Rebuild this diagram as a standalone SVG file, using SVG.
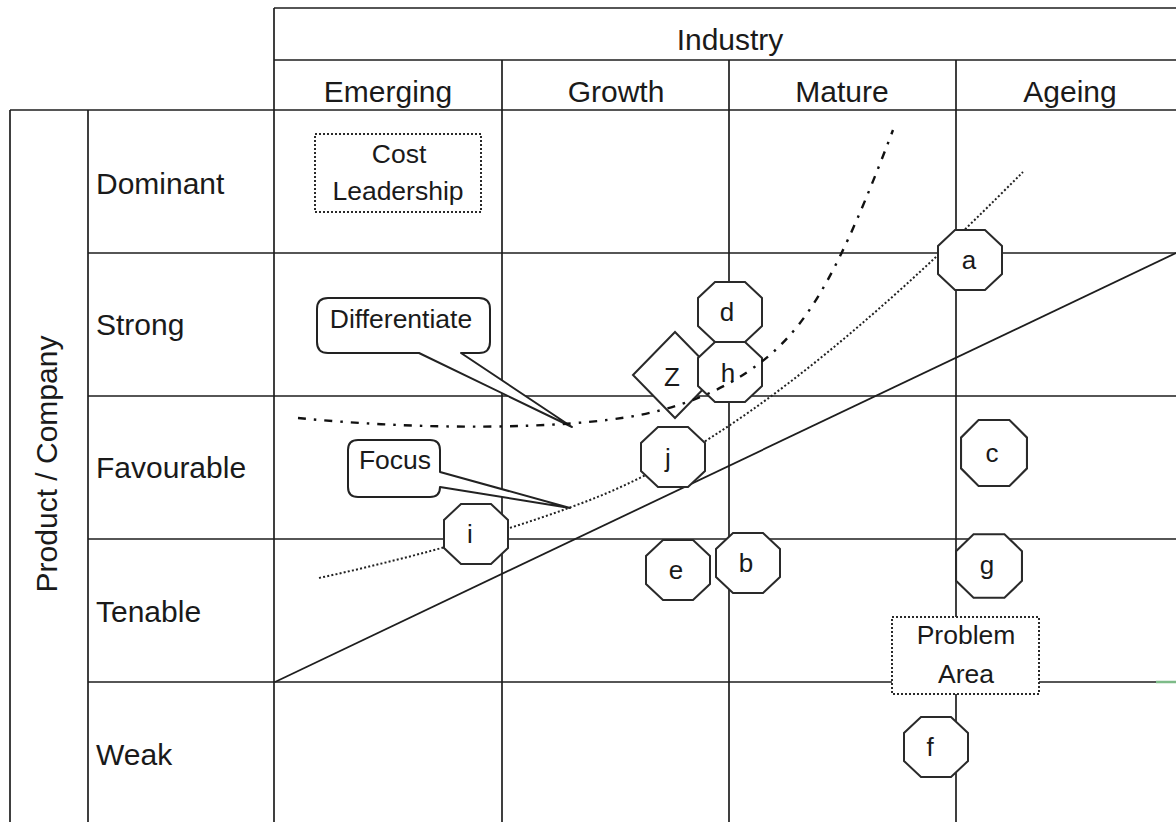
<svg xmlns="http://www.w3.org/2000/svg" width="1176" height="822" viewBox="0 0 1176 822">
  <style>
    .grid { stroke: #1e1e1e; stroke-width: 1.7; fill: none; }
    .lbl { font-family: "Liberation Sans", Arial, sans-serif; font-size: 30px; fill: #1a1a1a; }
    .hdr { font-family: "Liberation Sans", Arial, sans-serif; font-size: 30px; fill: #1a1a1a; text-anchor: middle; }
    .box { font-family: "Liberation Sans", Arial, sans-serif; font-size: 26.5px; fill: #1a1a1a; text-anchor: middle; }
    .oct { fill: #ffffff; stroke: #2a2a2a; stroke-width: 2; }
    .otx { font-family: "Liberation Sans", Arial, sans-serif; font-size: 26px; fill: #1a1a1a; text-anchor: middle; }
    .dotbox { fill: #ffffff; stroke: #2a2a2a; stroke-width: 2; stroke-dasharray: 2 2; }
    .callout { fill: #ffffff; stroke: #222; stroke-width: 2; stroke-linejoin: round; }
    .trend { stroke: #1e1e1e; stroke-width: 1.8; fill: none; }
    .dotted { stroke: #222; stroke-width: 2; fill: none; stroke-dasharray: 2 2.2; }
    .dashdot { stroke: #111; stroke-width: 2.4; fill: none; stroke-dasharray: 8 8 2.5 8; }
  </style>
  <defs>
    <polygon id="octa" points="-15,-30 15,-30 32,-14 32,14 15,30 -15,30 -32,14 -32,-14"/>
  </defs>

  <rect width="1176" height="822" fill="#ffffff"/>

  <!-- table grid -->
  <g id="grid" class="grid">
    <line x1="274" y1="8" x2="1176" y2="8"/>
    <line x1="274" y1="60" x2="1176" y2="60"/>
    <line x1="10" y1="110" x2="1176" y2="110"/>
    <line x1="88" y1="253" x2="1176" y2="253"/>
    <line x1="88" y1="396" x2="1176" y2="396"/>
    <line x1="88" y1="539" x2="1176" y2="539"/>
    <line x1="88" y1="682" x2="1176" y2="682"/>
    <line x1="10" y1="110" x2="10" y2="822"/>
    <line x1="88" y1="110" x2="88" y2="822"/>
    <line x1="274" y1="8" x2="274" y2="822"/>
    <line x1="502" y1="60" x2="502" y2="822"/>
    <line x1="729" y1="60" x2="729" y2="822"/>
    <line x1="956" y1="60" x2="956" y2="822"/>
  </g>
  <line x1="1156" y1="682" x2="1176" y2="682" stroke="#7dbb88" stroke-width="2.5"/>

  <!-- headings -->
  <g id="headings">
    <text class="hdr" x="730" y="50" font-size="29">Industry</text>
    <text class="hdr" x="388" y="102">Emerging</text>
    <text class="hdr" x="616" y="102">Growth</text>
    <text class="hdr" x="842" y="102">Mature</text>
    <text class="hdr" x="1070" y="102">Ageing</text>
    <text class="hdr" transform="translate(57,464) rotate(-90)">Product / Company</text>
    <text class="lbl" x="96" y="194">Dominant</text>
    <text class="lbl" x="96" y="335">Strong</text>
    <text class="lbl" x="96" y="478">Favourable</text>
    <text class="lbl" x="96" y="622">Tenable</text>
    <text class="lbl" x="96" y="765">Weak</text>
  </g>

  <!-- trend lines -->
  <g id="connectors">
    <line class="trend" x1="275" y1="682" x2="1176" y2="253"/>
    <path class="dotted" d="M319,578 C420,556 520,528 600,496 C700,455 800,380 900,290 C950,245 990,205 1023,172"/>
  </g>

  <!-- strategy boxes -->
  <g id="cost-leadership">
    <rect class="dotbox" x="315" y="134" width="166" height="78"/>
    <text class="box" x="399" y="163">Cost</text>
    <text class="box" x="398" y="200">Leadership</text>
  </g>
  <g id="problem-area">
    <rect class="dotbox" x="892" y="617" width="147" height="77"/>
    <text class="box" x="966" y="644">Problem</text>
    <text class="box" x="966" y="683">Area</text>
  </g>
  <g id="differentiate">
    <path class="callout" d="M328,298 H479 Q490,298 490,309 V342 Q490,353 479,353 H461 L572,427 L419,353 H328 Q317,353 317,342 V309 Q317,298 328,298 Z"/>
    <text class="box" x="401" y="328">Differentiate</text>
  </g>
  <g id="focus">
    <path class="callout" d="M358,440 H430 Q440,440 440,450 V472 L570,508 L440,487 Q440,497 430,497 H358 Q348,497 348,487 V450 Q348,440 358,440 Z"/>
    <text class="box" x="395" y="469">Focus</text>
  </g>

  <!-- products -->
  <g id="node-z">
    <polygon class="oct" points="633,375 675,332 717,375 675,418"/>
    <text class="otx" x="672" y="386" font-size="34">Z</text>
  </g>
  <g id="node-a"><use href="#octa" class="oct" x="970" y="260"/><text class="otx" x="969" y="269">a</text></g>
  <g id="node-d"><use href="#octa" class="oct" x="730" y="312"/><text class="otx" x="727" y="321">d</text></g>
  <g id="node-h"><use href="#octa" class="oct" x="730" y="372"/><text class="otx" x="728" y="382">h</text></g>
  <g id="node-j"><use href="#octa" class="oct" x="673" y="457"/><text class="otx" x="668" y="467">j</text></g>
  <g id="node-c"><use href="#octa" class="oct" transform="translate(994,453) scale(1.03,1.1)"/><text class="otx" x="992" y="462">c</text></g>
  <g id="node-i"><use href="#octa" class="oct" x="476" y="534"/><text class="otx" x="470" y="543">i</text></g>
  <g id="node-e"><use href="#octa" class="oct" x="678" y="570"/><text class="otx" x="676" y="579">e</text></g>
  <g id="node-b"><use href="#octa" class="oct" x="748" y="563"/><text class="otx" x="746" y="572">b</text></g>
  <g id="node-g"><use href="#octa" class="oct" transform="translate(989,566) scale(1.03,1.06)"/><text class="otx" x="987" y="574">g</text></g>
  <g id="node-f"><use href="#octa" class="oct" x="936" y="747"/><text class="otx" x="930" y="756">f</text></g>

  <!-- boundary curve drawn over the markers -->
  <g id="boundary">
    <path class="dashdot" d="M298,418 C420,430 560,430 640,415 C700,403 740,380 770,355 C810,320 840,270 893,130"/>
  </g>
</svg>
